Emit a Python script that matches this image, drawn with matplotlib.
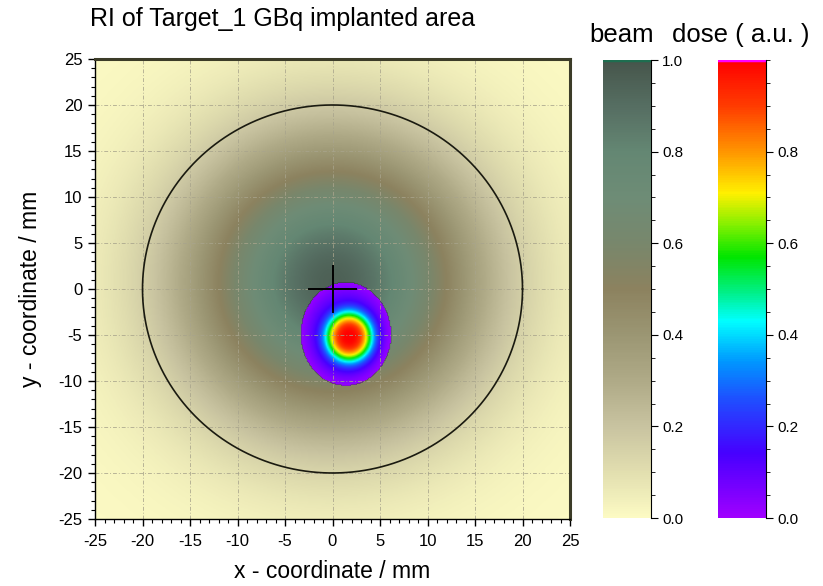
import numpy as np
import matplotlib.pyplot as plt
from matplotlib.colors import LinearSegmentedColormap
from matplotlib.ticker import MultipleLocator

plt.rcParams['font.family'] = ['Liberation Sans', 'DejaVu Sans']
plt.rcParams['axes.unicode_minus'] = False

# beam profile (Gaussian, mm)
beam_center = (0.0, 0.8)
beam_sigma = 10.6
beam_peak = 0.95

# dose spot (mm): flat-topped core plus a faint halo
dose_core_center = (1.75, -5.2)
dose_core_radius = (2.45, 2.7)
dose_core_power = 3.0
dose_halo_center = (1.4, -4.9)
dose_halo_radius = (4.3, 5.1)
dose_halo_power = 6.0
dose_halo_weight = 0.12
dose_cut = 0.02

circle_radius = 20.0
cross_half = 2.5

beam_stops = [0.0, 0.1, 0.2, 0.3, 0.4, 0.5, 0.6, 0.7, 0.8, 0.9, 1.0]
beam_colors = ["#fcfac3", "#e1deaf", "#c8c3a0", "#afaa87", "#9b9673", "#8c825f",
               "#78876c", "#6e8c76", "#648773", "#566e62", "#46554b"]
dose_stops = [0.0, 0.14, 0.26, 0.34, 0.43, 0.49, 0.57, 0.64, 0.71, 0.8, 0.9, 1.0]
dose_colors = ["#a000ff", "#4600ff", "#1e50ff", "#0096ff", "#00ffff", "#00f08c",
               "#00e600", "#82f000", "#fff000", "#ff9600", "#ff3c00", "#ff0000"]

beam_cmap = LinearSegmentedColormap.from_list("beam", list(zip(beam_stops, beam_colors)))
dose_cmap = LinearSegmentedColormap.from_list("dose", list(zip(dose_stops, dose_colors)))

x = np.linspace(-25, 25, 401)
y = np.linspace(-25, 25, 401)
X, Y = np.meshgrid(x, y)
beam = beam_peak * np.exp(-((X - beam_center[0])**2 + (Y - beam_center[1])**2) / (2 * beam_sigma**2))

rc = np.hypot((X - dose_core_center[0]) / dose_core_radius[0],
              (Y - dose_core_center[1]) / dose_core_radius[1])
rh = np.hypot((X - dose_halo_center[0]) / dose_halo_radius[0],
              (Y - dose_halo_center[1]) / dose_halo_radius[1])
dose = (1 - dose_halo_weight) * np.exp(-rc**dose_core_power) \
    + dose_halo_weight * np.exp(-rh**dose_halo_power)
dose = np.ma.masked_less(dose, dose_cut)

fig = plt.figure(figsize=(8.23, 5.86), dpi=100)
W, H = 823, 586
ax = fig.add_axes([95 / W, 1 - 519 / H, 475 / W, 460 / H])
cax1 = fig.add_axes([603 / W, 1 - 518 / H, 48 / W, 458 / H])
cax2 = fig.add_axes([718 / W, 1 - 518 / H, 48 / W, 458 / H])

im1 = ax.imshow(beam, cmap=beam_cmap, vmin=0, vmax=1, origin="lower",
                extent=[-25, 25, -25, 25], interpolation="bilinear", aspect="auto")
im2 = ax.imshow(dose, cmap=dose_cmap, vmin=0, vmax=1, origin="lower",
                extent=[-25, 25, -25, 25], interpolation="bilinear", aspect="auto")

t = np.linspace(0, 2 * np.pi, 400)
ax.plot(circle_radius * np.cos(t), circle_radius * np.sin(t), color="#1a1a10", lw=1.2)
ax.plot([-cross_half, cross_half], [0, 0], color="black", lw=1.4)
ax.plot([0, 0], [-cross_half, cross_half], color="black", lw=1.4)

ax.set_xlim(-25, 25)
ax.set_ylim(-25, 25)
ax.xaxis.set_major_locator(MultipleLocator(5))
ax.yaxis.set_major_locator(MultipleLocator(5))
ax.xaxis.set_minor_locator(MultipleLocator(1))
ax.yaxis.set_minor_locator(MultipleLocator(1))
ax.tick_params(which="major", length=5, width=1, labelsize=12, direction="out")
ax.tick_params(axis="x", which="major", pad=6)
ax.tick_params(axis="y", which="major", pad=4)
ax.tick_params(which="minor", length=3, width=0.8, direction="out")
ax.grid(True, which="major", color="#a8a48c", lw=0.7, ls=(0, (4, 2, 1, 2)), alpha=0.8)
for side in ["top", "right"]:
    ax.spines[side].set_linewidth(2.2)
    ax.spines[side].set_color("#3c3c28")
for side in ["left", "bottom"]:
    ax.spines[side].set_linewidth(1.0)
ax.set_xlabel("x - coordinate / mm", fontsize=16.5, labelpad=8)
ax.set_ylabel("y - coordinate / mm", fontsize=16.5, labelpad=12)
fig.text(283 / W, 1 - 19 / H, "RI of Target_1 GBq implanted area", fontsize=18,
         ha="center", va="center")

cb1 = fig.colorbar(im1, cax=cax1)
cb1.set_ticks([0.0, 0.2, 0.4, 0.6, 0.8, 1.0])
cb2 = fig.colorbar(im2, cax=cax2)
cb2.set_ticks([0.0, 0.2, 0.4, 0.6, 0.8])
for cb in (cb1, cb2):
    cb.ax.yaxis.set_minor_locator(MultipleLocator(0.05))
    cb.ax.tick_params(which="major", length=5, labelsize=11, pad=3)
    cb.ax.tick_params(which="minor", length=3)
    cb.outline.set_visible(False)
    cb.ax.spines["right"].set_visible(True)
cax1.axhline(1.0, color="#1e6e50", lw=2.5)
cax2.axhline(1.0, color="#ff00ff", lw=2.5)

fig.text(622 / W, 1 - 35 / H, "beam", fontsize=18.5, ha="center", va="center")
fig.text(741 / W, 1 - 35 / H, "dose ( a.u. )", fontsize=18.5, ha="center", va="center")

fig.savefig("out.png", dpi=100)
